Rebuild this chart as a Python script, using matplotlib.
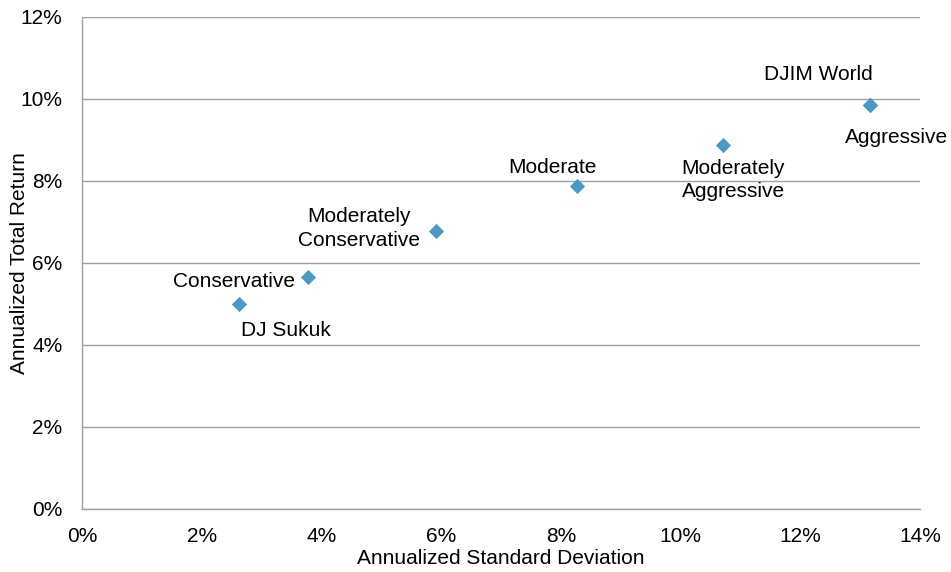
import matplotlib
matplotlib.use("Agg")
import matplotlib.pyplot as plt
from matplotlib.ticker import FuncFormatter

plt.rcParams['font.family'] = ['Liberation Sans', 'DejaVu Sans']

# Portfolio risk / return (percent)
names = ["DJ Sukuk", "Conservative", "Moderately\nConservative", "Moderate",
         "Moderately\nAggressive", "DJIM World", "Aggressive"]
std_dev = [2.62, 3.78, 5.91, 8.27, 10.71, 13.16, 13.16]
ret = [5.00, 5.67, 6.79, 7.88, 8.88, 9.86, 9.86]

# label placement (pixel offsets, alignment)
label_pos = [
    ((2, -26), 'left'),
    ((-13, -5), 'right'),
    ((-77, 2), 'center'),
    ((-25, 18), 'center'),
    ((10, -35), 'center'),
    ((-51, 30), 'center'),
    ((27, -33), 'center'),
]

FS = 15

fig = plt.figure(figsize=(9.51, 5.72), dpi=100)
ax = fig.add_axes([82/951, 1-509/572, (920-82)/951, (509-17)/572])

ax.scatter(std_dev, ret, marker='D', s=60, color='#4A98C4', zorder=3, linewidths=0)

for n, x, y, (off, ha) in zip(names, std_dev, ret, label_pos):
    ax.annotate(n, (x, y), xytext=off, textcoords='offset pixels',
                ha=ha, va='center', multialignment='center',
                fontsize=FS, color='#000000', annotation_clip=False,
                linespacing=1.3)

ax.set_xlim(0, 14)
ax.set_ylim(0, 12)
ax.set_xticks(range(0, 15, 2))
ax.set_yticks(range(0, 13, 2))
pct = FuncFormatter(lambda v, p: f"{v:.0f}%")
ax.xaxis.set_major_formatter(pct)
ax.yaxis.set_major_formatter(pct)
ax.tick_params(length=0, labelsize=FS, colors='#000000')
ax.tick_params(axis='x', pad=13)
ax.tick_params(axis='y', pad=14)
ax.grid(axis='y', color='#A0A0A0', linewidth=1.0)
ax.set_axisbelow(True)
for s in ['top', 'right']:
    ax.spines[s].set_visible(False)
for s in ['left', 'bottom']:
    ax.spines[s].set_color('#A0A0A0')
    ax.spines[s].set_linewidth(1.0)

ax.set_xlabel("Annualized Standard Deviation", fontsize=FS, labelpad=2)
fig.text(20/951, 1-263/572, "Annualized Total Return", fontsize=FS,
         rotation=90, ha='center', va='center')

fig.savefig("out.png", dpi=100)
